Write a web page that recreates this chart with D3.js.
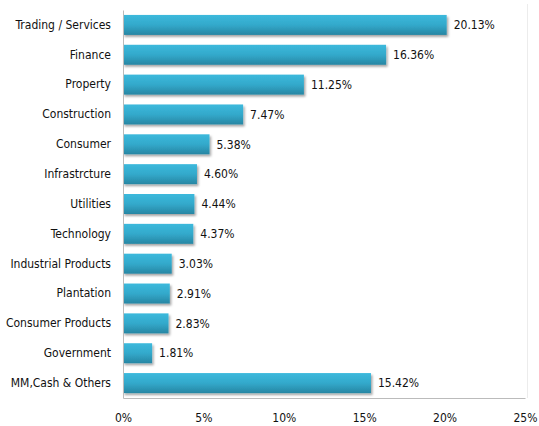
<!DOCTYPE html>
<html>
<head>
<meta charset="utf-8">
<script src="https://cdn.jsdelivr.net/npm/d3@7"></script>
<style>
  body { margin: 0; background: #fff; }
  text { font-family: "DejaVu Sans Condensed", "Open Sans", sans-serif; fill: #111; }
</style>
</head>
<body>
<div id="chart"></div>
<script>
// Sector allocation data
const sectors = ["Trading / Services", "Finance", "Property", "Construction", "Consumer",
  "Infrastrcture", "Utilities", "Technology", "Industrial Products", "Plantation",
  "Consumer Products", "Government", "MM,Cash & Others"];
const weights = [20.13, 16.36, 11.25, 7.47, 5.38, 4.60, 4.44, 4.37, 3.03, 2.91, 2.83, 1.81, 15.42];
const xTicks = [0, 5, 10, 15, 20, 25];

const svgWidth = 539, svgHeight = 426;
const margin = { top: 10, right: 14, bottom: 28, left: 123 };
const width = svgWidth - margin.left - margin.right;
const height = svgHeight - margin.top - margin.bottom;

const svg = d3.select("#chart")
  .append("svg")
    .attr("width", svgWidth)
    .attr("height", svgHeight);

const defs = svg.append("defs");
const grad = defs.append("linearGradient")
    .attr("id", "barGrad")
    .attr("x1", 0).attr("y1", 0).attr("x2", 0).attr("y2", 1);
grad.append("stop").attr("offset", "0%").attr("stop-color", "#3cb9dc");
grad.append("stop").attr("offset", "50%").attr("stop-color", "#33a9cb");
grad.append("stop").attr("offset", "100%").attr("stop-color", "#2786a3");

const shadow = defs.append("filter").attr("id", "shadow")
    .attr("x", "-5%").attr("y", "-20%").attr("width", "115%").attr("height", "160%");
shadow.append("feDropShadow")
    .attr("dx", 1.5).attr("dy", 2).attr("stdDeviation", 1.2)
    .attr("flood-color", "#000").attr("flood-opacity", 0.35);

const g = svg.append("g")
    .attr("transform", `translate(${margin.left},${margin.top})`);

const x = d3.scaleLinear().domain([0, 25]).range([0, width]);
const y = d3.scaleBand().domain(sectors).range([0, height])
    .paddingInner(0.33).paddingOuter(0.165);

// faint right border
svg.append("line")
    .attr("x1", 527.5).attr("x2", 527.5).attr("y1", 4).attr("y2", 398)
    .attr("stroke", "#ececec");

// bars
g.selectAll("rect.bar")
  .data(sectors)
  .enter()
  .append("rect")
    .attr("class", "bar")
    .attr("x", 0)
    .attr("y", d => y(d))
    .attr("width", (d, i) => x(weights[i]))
    .attr("height", y.bandwidth())
    .attr("fill", "url(#barGrad)")
    .attr("filter", "url(#shadow)");

// value labels
g.selectAll("text.val")
  .data(sectors)
  .enter()
  .append("text")
    .attr("class", "val")
    .attr("x", (d, i) => x(weights[i]) + 7)
    .attr("y", d => y(d) + y.bandwidth() / 2)
    .attr("dy", "0.35em")
    .style("font-size", "12px")
    .text((d, i) => weights[i].toFixed(2) + "%");

// y axis
const yAxis = g.append("g")
    .call(d3.axisLeft(y).tickSize(0).tickPadding(12));
yAxis.select(".domain").attr("stroke", "#bbb");
yAxis.selectAll("text").style("font-size", "12px");

// x axis
const xAxis = g.append("g")
    .attr("transform", `translate(0,${height})`)
    .call(d3.axisBottom(x).tickValues(xTicks).tickSize(0).tickPadding(15).tickFormat(d => d + "%"));
xAxis.select(".domain").attr("stroke", "#bbb");
xAxis.selectAll("text").style("font-size", "12px");
</script>
</body>
</html>
